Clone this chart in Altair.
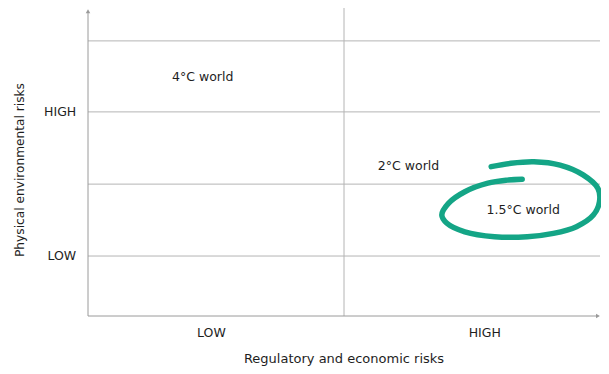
import altair as alt
import pandas as pd

# ---- data ----
grid_y = [19.6, 43.1, 66.7, 89.9]          # horizontal gridlines
mid_x = [50]                               # vertical divider
y_tick_labels = ["LOW", "HIGH"]
y_tick_pos = [19.6, 66.7]
x_tick_labels = ["LOW", "HIGH"]
x_tick_pos = [24.1, 77.5]
scen_labels = ["4°C world", "2°C world", "1.5°C world"]
scen_x = [22.4, 62.6, 85.0]
scen_y = [78.1, 49.0, 34.6]
loop_x = [78.75, 82.6, 87.1, 92.2, 96.7, 99.6, 99.9, 98.7, 95.4, 90.9, 85.8,
          79.4, 73.6, 70.1, 69.1, 70.4, 73.6, 78.1, 81.9, 84.8]
loop_y = [48.8, 49.9, 50.4, 49.3, 46.1, 41.7, 37.4, 33.0, 29.2, 27.0, 25.9,
          25.9, 27.5, 30.3, 33.0, 36.8, 40.6, 43.4, 44.4, 44.7]
x_title = "Regulatory and economic risks"
y_title = "Physical environmental risks"

FONT = "DejaVu Sans"
GRID = "#b4b4b4"
AXIS = "#9a9a9a"
TXT = "#1e1e1e"
GREEN = "#14a586"

xs = alt.Scale(domain=[0, 100], range=[80, 592])
ys = alt.Scale(domain=[0, 100], range=[308, 2])


def X(f):
    return alt.X(f, type="quantitative", scale=xs, axis=None)


def Y(f):
    return alt.Y(f, type="quantitative", scale=ys, axis=None)


grid = alt.Chart(pd.DataFrame({"gy": grid_y})).transform_calculate(
    a="0", b="100"
).mark_rule(color=GRID, strokeWidth=1).encode(y=Y("gy"), x=X("a"), x2=alt.X2("b"))

vline = alt.Chart(pd.DataFrame({"mx": mid_x})).transform_calculate(
    a="0", b="100.7"
).mark_rule(color=GRID, strokeWidth=1).encode(x=X("mx"), y=Y("a"), y2=alt.Y2("b"))

base = alt.Chart(pd.DataFrame({"k": [0]}))
xaxis = base.transform_calculate(a="0", b="99.5").mark_rule(color=AXIS, strokeWidth=1).encode(
    y=Y("k"), x=X("a"), x2=alt.X2("b"))
yaxis = base.transform_calculate(a="0", b="99").mark_rule(color=AXIS, strokeWidth=1).encode(
    x=X("k"), y=Y("a"), y2=alt.Y2("b"))
arrow_up = base.transform_calculate(a="0", b="99.6").mark_point(
    filled=True, color=AXIS, size=20, opacity=1, shape="triangle-up"
).encode(x=X("a"), y=Y("b"))
arrow_right = base.transform_calculate(a="99.6", b="0").mark_point(
    filled=True, color=AXIS, size=20, opacity=1, shape="triangle-right"
).encode(x=X("a"), y=Y("b"))

ylab = alt.Chart(pd.DataFrame({"t": y_tick_labels, "p": y_tick_pos})).transform_calculate(
    a="-2.3").mark_text(
    align="right", baseline="middle", font=FONT, fontSize=12.5, color=TXT
).encode(y=Y("p"), x=X("a"), text="t:N")
xlab = alt.Chart(pd.DataFrame({"t": x_tick_labels, "p": x_tick_pos})).transform_calculate(
    a="-5.6").mark_text(
    align="center", baseline="middle", font=FONT, fontSize=12.5, color=TXT
).encode(x=X("p"), y=Y("a"), text="t:N")
scen = alt.Chart(pd.DataFrame({"t": scen_labels, "x": scen_x, "y": scen_y})).mark_text(
    align="center", baseline="middle", font=FONT, fontSize=12.5, color=TXT
).encode(x=X("x"), y=Y("y"), text="t:N")
xt = alt.Chart(pd.DataFrame({"t": [x_title]})).transform_calculate(a="50", b="-14.2").mark_text(
    align="center", baseline="middle", font=FONT, fontSize=13, color=TXT
).encode(x=X("a"), y=Y("b"), text="t:N")
yt = alt.Chart(pd.DataFrame({"t": [y_title]})).transform_calculate(a="-13.2", b="47.7").mark_text(
    align="center", baseline="middle", font=FONT, fontSize=12.2, color=TXT, angle=270
).encode(x=X("a"), y=Y("b"), text="t:N")

loop = alt.Chart(pd.DataFrame({"x": loop_x, "y": loop_y, "o": list(range(len(loop_x)))})).mark_line(
    color=GREEN, strokeWidth=5.5, strokeCap="round", interpolate="catmull-rom"
).encode(x=X("x"), y=Y("y"), order="o:Q")

chart = alt.layer(grid, vline, xaxis, yaxis, arrow_up, arrow_right, ylab, xlab, scen, xt, yt, loop).properties(
    width=593, height=358, autosize=alt.AutoSizeParams(type="none"), padding=0
).configure_view(strokeWidth=0)

chart.save("out.html", embed_options={"renderer": "svg", "actions": False})
